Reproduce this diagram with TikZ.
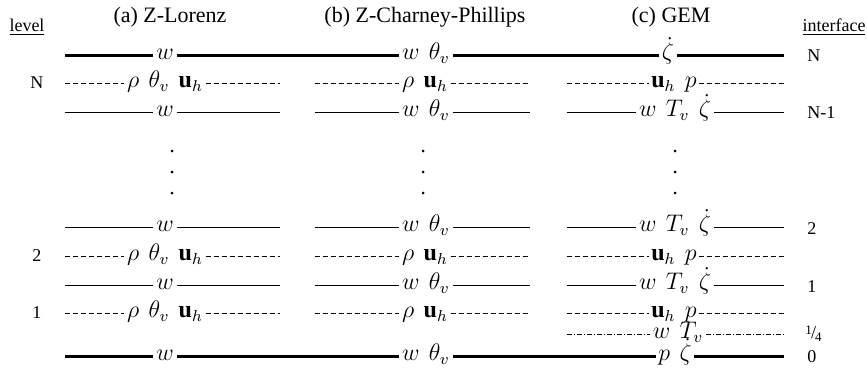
\documentclass[tikz,border=0pt]{standalone}
\usepackage{fontspec}
\setmainfont{Liberation Serif}
\newcommand\gp{\mkern7mu}
\begin{document}
\begin{tikzpicture}[x=0.5pt,y=-0.5pt,
  lab/.style={inner xsep=1.2pt, inner ysep=2pt, text height=1.5ex, text depth=0.5ex, font=\fontsize{12}{14}\selectfont},
  thk/.style={line width=1.5pt},
  thn/.style={line width=0.5pt},
  dsh/.style={line width=0.45pt, dash pattern=on 2.5pt off 1.5pt},
  dshdot/.style={line width=0.45pt, dash pattern=on 2.5pt off 1pt on 0.5pt off 1pt},
  hdr/.style={font=\fontsize{11}{13}\selectfont, inner sep=0pt},
  sml/.style={font=\fontsize{9}{11}\selectfont, inner sep=0pt},
  lvl/.style={sml, anchor=center},
  ifc/.style={sml, anchor=west},
  dotn/.style={circle, fill, inner sep=0pt, minimum size=1.5pt}]
\useasboundingbox (0,0) rectangle (867,375);

% headers
\node[hdr] (ta) at (170,17) {(a) Z-Lorenz};
\node[hdr] (tb) at (425,17) {(b) Z-Charney-Phillips};
\node[hdr] (tc) at (671,17) {(c) GEM};
\node[sml] (hl) at (27,27) {\underline{level}};
\node[sml] (hi) at (834,27) {\underline{interface}};

% top interface N (thick, continuous)
\coordinate (topL) at (65,55);
\coordinate (topR) at (784,55);
\node[lab] (topa) at (165,55) {$w$};
\node[lab] (topb) at (426,55) {$w\gp\theta_v$};
\node[lab] (topc) at (668,55) {$\dot\zeta$};
\draw[thk] (topL) -- (topa) -- (topb) -- (topc) -- (topR);

% level N (dashed)
\coordinate (nLa) at (65,83);  \coordinate (nRa) at (280,83);
\coordinate (nLb) at (315,83); \coordinate (nRb) at (530,83);
\coordinate (nLc) at (567,83); \coordinate (nRc) at (784,83);
\node[lab] (na) at (165,83) {$\rho\gp\theta_v\gp\mathbf{u}_h$};
\node[lab] (nb) at (425,83) {$\rho\gp\mathbf{u}_h$};
\node[lab] (nc) at (674,83) {$\mathbf{u}_h\gp p$};
\draw[dsh] (nLa) -- (na) -- (nRa);
\draw[dsh] (nLb) -- (nb) -- (nRb);
\draw[dsh] (nLc) -- (nc) -- (nRc);

% interface N-1 (thin)
\coordinate (mLa) at (65,112);  \coordinate (mRa) at (280,112);
\coordinate (mLb) at (315,112); \coordinate (mRb) at (530,112);
\coordinate (mLc) at (567,112); \coordinate (mRc) at (784,112);
\node[lab] (ma) at (165,112) {$w$};
\node[lab] (mb) at (426,112) {$w\gp\theta_v$};
\node[lab] (mc) at (675,112) {$w\gp T_v\gp\dot\zeta$};
\draw[thn] (mLa) -- (ma) -- (mRa);
\draw[thn] (mLb) -- (mb) -- (mRb);
\draw[thn] (mLc) -- (mc) -- (mRc);

% dots
\foreach \yy/\k in {151/1,172/2,193/3}{
  \node[dotn] (da\k) at (172,\yy) {};
  \node[dotn] (db\k) at (423,\yy) {};
  \node[dotn] (dc\k) at (675,\yy) {};
}

% interface 2 (thin)
\coordinate (iLa) at (65,227);  \coordinate (iRa) at (280,227);
\coordinate (iLb) at (315,227); \coordinate (iRb) at (530,227);
\coordinate (iLc) at (567,227); \coordinate (iRc) at (784,227);
\node[lab] (ia) at (165,227) {$w$};
\node[lab] (ib) at (426,227) {$w\gp\theta_v$};
\node[lab] (ic) at (675,227) {$w\gp T_v\gp\dot\zeta$};
\draw[thn] (iLa) -- (ia) -- (iRa);
\draw[thn] (iLb) -- (ib) -- (iRb);
\draw[thn] (iLc) -- (ic) -- (iRc);

% level 2 (dashed)
\coordinate (kLa) at (65,256);  \coordinate (kRa) at (280,256);
\coordinate (kLb) at (315,256); \coordinate (kRb) at (530,256);
\coordinate (kLc) at (567,256); \coordinate (kRc) at (784,256);
\node[lab] (ka) at (165,256) {$\rho\gp\theta_v\gp\mathbf{u}_h$};
\node[lab] (kb) at (425,256) {$\rho\gp\mathbf{u}_h$};
\node[lab] (kc) at (674,256) {$\mathbf{u}_h\gp p$};
\draw[dsh] (kLa) -- (ka) -- (kRa);
\draw[dsh] (kLb) -- (kb) -- (kRb);
\draw[dsh] (kLc) -- (kc) -- (kRc);

% interface 1 (thin)
\coordinate (jLa) at (65,285);  \coordinate (jRa) at (280,285);
\coordinate (jLb) at (315,285); \coordinate (jRb) at (530,285);
\coordinate (jLc) at (567,285); \coordinate (jRc) at (784,285);
\node[lab] (ja) at (165,285) {$w$};
\node[lab] (jb) at (426,285) {$w\gp\theta_v$};
\node[lab] (jc) at (675,285) {$w\gp T_v\gp\dot\zeta$};
\draw[thn] (jLa) -- (ja) -- (jRa);
\draw[thn] (jLb) -- (jb) -- (jRb);
\draw[thn] (jLc) -- (jc) -- (jRc);

% level 1 (dashed)
\coordinate (lLa) at (65,313);  \coordinate (lRa) at (280,313);
\coordinate (lLb) at (315,313); \coordinate (lRb) at (530,313);
\coordinate (lLc) at (567,313); \coordinate (lRc) at (784,313);
\node[lab] (la) at (165,313) {$\rho\gp\theta_v\gp\mathbf{u}_h$};
\node[lab] (lb) at (425,313) {$\rho\gp\mathbf{u}_h$};
\node[lab] (lc) at (674,313) {$\mathbf{u}_h\gp p$};
\draw[dsh] (lLa) -- (la) -- (lRa);
\draw[dsh] (lLb) -- (lb) -- (lRb);
\draw[dsh] (lLc) -- (lc) -- (lRc);

% interface 1/4 (dash-dot, GEM only)
\coordinate (qLc) at (567,334); \coordinate (qRc) at (784,334);
\node[lab] (qc) at (678,334) {$w\gp T_v$};
\draw[dshdot] (qLc) -- (qc) -- (qRc);

% bottom interface 0 (thick, continuous)
\coordinate (botL) at (65,356);
\coordinate (botR) at (784,356);
\node[lab] (bota) at (165,356) {$w$};
\node[lab] (botb) at (426,356) {$w\gp\theta_v$};
\node[lab] (botc) at (675,356) {$p\gp\dot\zeta$};
\draw[thk] (botL) -- (bota) -- (botb) -- (botc) -- (botR);

% level labels
\node[lvl] (lvN) at (37,83) {N};
\node[lvl] (lv2) at (37,256) {2};
\node[lvl] (lv1) at (37,313) {1};

% interface labels
\node[ifc] (ifN) at (807,56) {N};
\node[ifc] (ifNm) at (807,113) {N-1};
\node[ifc] (if2) at (807,229) {2};
\node[ifc] (if1) at (807,287) {1};
\node[ifc] (ifq) at (805,334) {\raisebox{0.45ex}{\fontsize{6.5}{7}\selectfont 1}\kern-0.05em/\kern-0.05em\raisebox{-0.35ex}{\fontsize{6.5}{7}\selectfont 4}};
\node[ifc] (if0) at (807,357) {0};
\end{tikzpicture}
\end{document}
